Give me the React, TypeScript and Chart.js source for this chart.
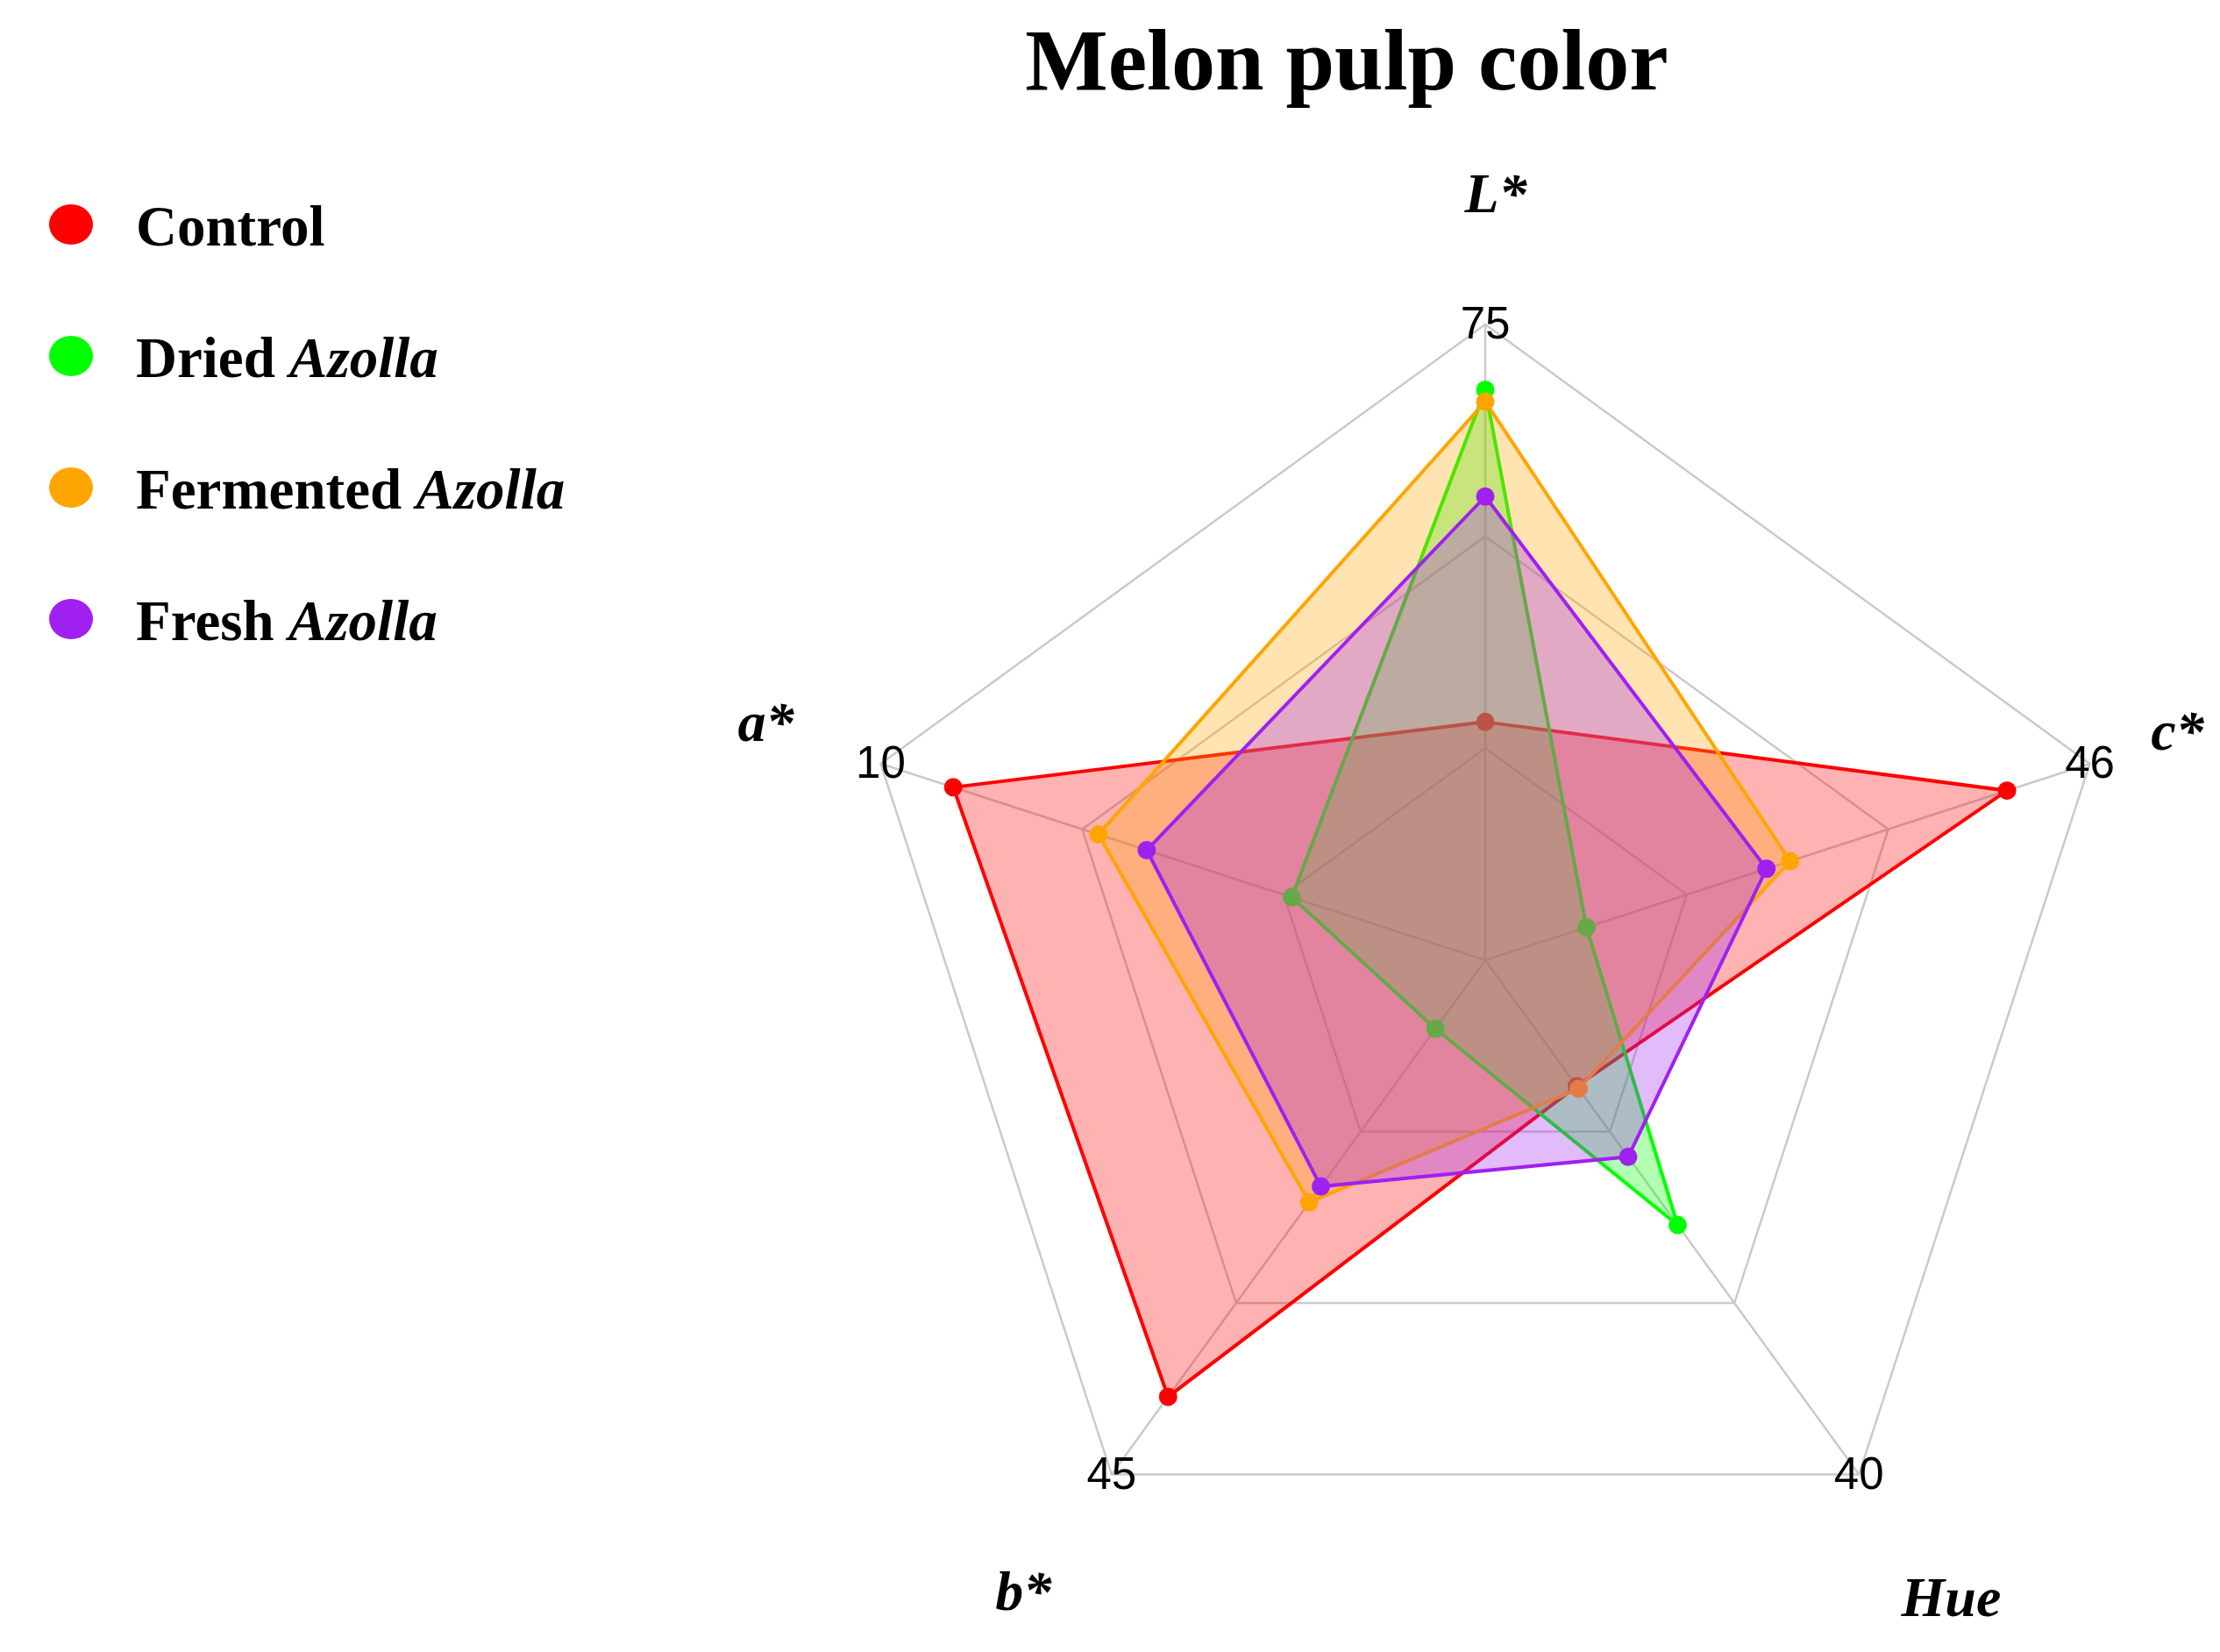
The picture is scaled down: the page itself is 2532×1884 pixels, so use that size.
import React, { useEffect, useRef } from "react";
import { Chart, registerables } from "chart.js";

Chart.register(...registerables);

// ---- data ----
const AXES = ["L*", "c*", "Hue", "b*", "a*"];
const AXIS_MAX = [75, 46, 40, 45, 10];
const SERIES = ["Control", "Dried", "Fermented", "Fresh"];
const SERIES_ITALIC = ["", "Azolla", "Azolla", "Azolla"];
const CONTROL = [28.1, 39.7, 9.8, 38.2, 8.8];
const DRIED = [67.3, 7.7, 20.6, 6.0, 3.2];
const FERMENTED = [65.9, 23.2, 10.0, 21.2, 6.4];
const FRESH = [54.7, 21.4, 15.3, 19.8, 5.6];

const VALUES = [CONTROL, DRIED, FERMENTED, FRESH];
const COLORS = ["#FF0000", "#00FF00", "#FFA500", "#A020F0"];
const FILLS = [
  "rgba(255,0,0,0.3)",
  "rgba(0,255,0,0.3)",
  "rgba(255,165,0,0.3)",
  "rgba(160,32,240,0.3)",
];

const W = 2532;
const H = 1884;
const RINGS = 3;
// radial distance (in units of the outer radius) of each axis title
const AXIS_TITLE_DIST = [1.2, 1.145, 1.247, 1.236, 1.19];

const textPlugin = {
  id: "texts",
  afterDatasetsDraw(chart: any) {
    const ctx = chart.ctx as CanvasRenderingContext2D;
    const r = chart.scales.r;
    ctx.save();
    ctx.fillStyle = "#000";

    // max labels at the outer vertices
    ctx.font = '51px "Liberation Sans", Arial, sans-serif';
    ctx.textAlign = "center";
    ctx.textBaseline = "middle";
    AXIS_MAX.forEach((m, i) => {
      const p = r.getPointPositionForValue(i, r.max);
      ctx.fillText(String(m), p.x, p.y + 2);
    });

    // axis titles
    ctx.font = 'italic bold 64px "Liberation Serif", "Times New Roman", serif';
    AXES.forEach((lab, i) => {
      const p = r.getPointPosition(i, r.drawingArea * AXIS_TITLE_DIST[i]);
      ctx.fillText(lab, p.x + (i === 0 ? 12 : 0), p.y);
    });

    // title
    ctx.font = 'bold 100px "Liberation Serif", "Times New Roman", serif';
    ctx.textBaseline = "alphabetic";
    ctx.fillText("Melon pulp color", 1536, 102);

    // legend
    ctx.textAlign = "left";
    SERIES.forEach((name, i) => {
      const base = 280 + i * 150;
      ctx.beginPath();
      ctx.fillStyle = COLORS[i];
      ctx.ellipse(81, base - 24, 25, 23, 0, 0, Math.PI * 2);
      ctx.fill();
      ctx.fillStyle = "#000";
      ctx.font = 'bold 65px "Liberation Serif", "Times New Roman", serif';
      const label = SERIES_ITALIC[i] ? name + " " : name;
      ctx.fillText(label, 155, base);
      if (SERIES_ITALIC[i]) {
        const w = ctx.measureText(label).width;
        ctx.font = 'italic bold 65px "Liberation Serif", "Times New Roman", serif';
        ctx.fillText(SERIES_ITALIC[i], 155 + w, base);
      }
    });
    ctx.restore();
  },
};

export default function App() {
  const ref = useRef<HTMLCanvasElement | null>(null);

  useEffect(() => {
    document.body.style.margin = "0";
    const canvas = ref.current;
    if (!canvas) return;
    const datasets = SERIES.map((name, i) => ({
      label: name,
      data: VALUES[i].map((v, k) => (v / AXIS_MAX[k]) * RINGS),
      borderColor: COLORS[i],
      backgroundColor: FILLS[i],
      borderWidth: 4,
      fill: true,
      order: SERIES.length - i,
      pointRadius: 10.5,
      pointHoverRadius: 10.5,
      pointBackgroundColor: COLORS[i],
      pointBorderColor: COLORS[i],
      pointBorderWidth: 0,
    }));
    const chart = new Chart(canvas, {
      type: "radar",
      data: { labels: AXES, datasets },
      options: {
        responsive: false,
        maintainAspectRatio: false,
        animation: false,
        devicePixelRatio: 1,
        layout: { padding: { left: 969, right: 113, top: 370, bottom: 64 } },
        plugins: {
          legend: { display: false },
          title: { display: false },
          tooltip: { enabled: false },
        },
        elements: { line: { tension: 0 } },
        scales: {
          r: {
            min: 0,
            max: RINGS,
            ticks: { display: false, stepSize: 1 },
            pointLabels: { display: false },
            grid: { color: "#CACACA", lineWidth: 2.5 },
            angleLines: { color: "#CACACA", lineWidth: 2.5 },
          },
        },
      } as any,
      plugins: [textPlugin],
    });
    return () => chart.destroy();
  }, []);

  return (
    <canvas
      ref={ref}
      width={W}
      height={H}
      style={{ display: "block", width: W + "px", height: H + "px", background: "#fff" }}
    />
  );
}
